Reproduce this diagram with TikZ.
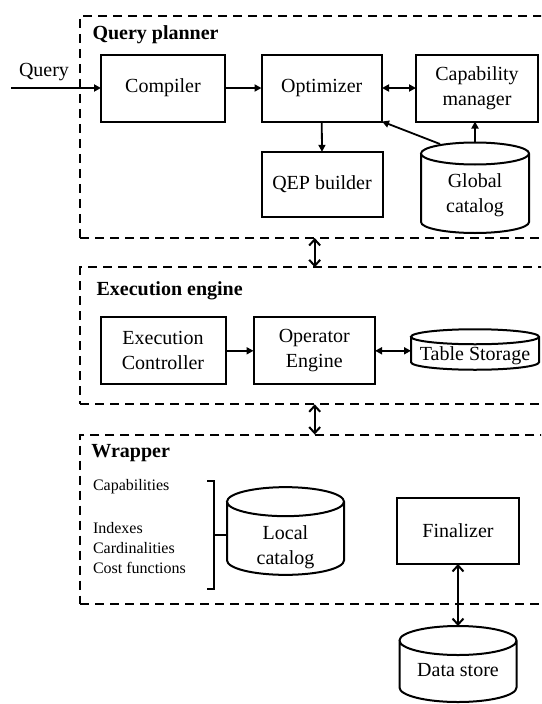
\documentclass[tikz,border=0pt]{standalone}
\usepackage{fontspec}
\setmainfont{Liberation Serif}
\usetikzlibrary{arrows.meta,calc}

% outline of a vertical cylinder filling the node #1, end ellipses of half-height #2
\newcommand\cylinderoutline[2]{%
  \draw[line width=2pt] let \p1=(#1.north west), \p2=(#1.south east), \n1={(\x2-\x1)/2} in
    (\x1,\y1-#2) -- (\x1,\y2+#2)
    arc[start angle=180,end angle=360,x radius=\n1,y radius=#2]
    -- (\x2,\y1-#2)
    arc[start angle=0,end angle=180,x radius=\n1,y radius=#2]
    arc[start angle=180,end angle=360,x radius=\n1,y radius=#2];}

\begin{document}
\begin{tikzpicture}[x=1pt,y=-1pt,
  every node/.style={inner sep=0pt, outer sep=0pt},
  lbl/.style={font=\fontsize{20}{25}\selectfont, align=center},
  heading/.style={font=\fontsize{20}{25}\selectfont\bfseries, anchor=west},
  note/.style={font=\fontsize{16}{19}\selectfont, anchor=west},
  block/.style={draw, line width=2pt, lbl},
  frame/.style={draw, line width=2pt, dash pattern=on 9pt off 6pt},
  link/.style={line width=1.8pt, -{Triangle[length=7pt,width=7pt]}},
  dlink/.style={line width=1.8pt, {Triangle[length=7pt,width=7pt]}-{Triangle[length=7pt,width=7pt]}},
  biglink/.style={line width=1.8pt, {Straight Barb[length=6pt,width=11pt,line width=2pt]}-{Straight Barb[length=6pt,width=11pt,line width=2pt]}},
  bracket/.style={line width=1.8pt}
]
\useasboundingbox (0,0) rectangle (541,704);
\clip (0,0) rectangle (541,704);

% dashed layer frames
\node[frame, minimum width=479.6pt, minimum height=222.5pt] (qp) at (320.2,126.75) {};
\node[frame, minimum width=479.6pt, minimum height=137pt] (ee) at (320.2,335.8) {};
\node[frame, minimum width=479.6pt, minimum height=169.8pt] (wr) at (320.2,519.4) {};

\node[heading] (qph) at (92.5,34.5) {Query planner};
\node[heading] (eeh) at (96.6,290.4) {Execution engine};
\node[heading] (wrh) at (91.4,453.5) {Wrapper};

% query planner
\node[lbl] (qlbl) at (44,72.5) {Query};
\coordinate (qin) at (11,88);
\node[block, minimum width=124pt, minimum height=67pt] (comp) at (163,88) {Compiler};
\node[block, minimum width=120.5pt, minimum height=67pt] (opt) at (321.75,88) {Optimizer};
\node[block, minimum width=122pt, minimum height=67pt] (cap) at (477,88) {Capability\\manager};
\node[block, minimum width=121pt, minimum height=65.6pt] (qep) at (322,184.6) {QEP builder};
\node[minimum width=108pt, minimum height=90.5pt] (gc) at (475,187.75) {};
\cylinderoutline{gc}{11pt}
\node[lbl] (gct) at ($(gc.center)+(0,7)$) {Global\\catalog};

\draw[link] (qin) -- (comp.west);
\draw[link] (comp.east) -- (opt.west);
\draw[dlink] (opt.east) -- (cap.west);
\draw[link] (opt.south) -- (qep.north);
\coordinate (gcrim) at (440,144);
\draw[link] (gcrim) -- (opt.south east);
\draw[link] (gc.north) -- (cap.south -| gc.north);

% execution engine
\node[block, minimum width=125pt, minimum height=67pt] (ctl) at (163,350.8) {Execution\\Controller};
\node[block, minimum width=121.5pt, minimum height=67pt] (op) at (314.3,350.8) {Operator\\Engine};
\node[minimum width=128pt, minimum height=40.5pt] (ts) at (475,349.5) {};
\cylinderoutline{ts}{7.5pt}
\node[lbl] (tst) at ($(ts.center)+(0,6.5)$) {Table Storage};

\draw[link] (ctl.east) -- (op.west);
\draw[dlink] (op.east) -- (ts.west |- op.east);

% wrapper
\node[note] (n1) at (93,487) {Capabilities};
\node[note] (n2) at (93,527.7) {Indexes};
\node[note] (n3) at (93,548.4) {Cardinalities};
\node[note] (n4) at (93,568.4) {Cost functions};
\node[minimum width=117pt, minimum height=87.7pt] (lc) at (285.5,531) {};
\cylinderoutline{lc}{14.5pt}
\node[lbl] (lct) at ($(lc.center)+(0,16.5)$) {Local\\catalog};
\draw[bracket] (207,481) -- (214,481) -- (214,589) -- (207,589);
\coordinate (brk) at (214,534.6);
\draw[bracket] (brk) -- (brk -| lc.west);

\node[block, minimum width=122pt, minimum height=66.4pt] (fin) at (458,530.8) {Finalizer};
\node[minimum width=117pt, minimum height=76pt] (ds) at (458,664) {};
\cylinderoutline{ds}{14.5pt}
\node[lbl] (dst) at ($(ds.center)+(0,6.5)$) {Data store};
\draw[biglink] (fin.south) -- (ds.north);

% links between layers
\coordinate (bus) at (314.7,0);
\draw[biglink] (qp.south -| bus) -- (ee.north -| bus);
\draw[biglink] (ee.south -| bus) -- (wr.north -| bus);
\end{tikzpicture}
\end{document}
